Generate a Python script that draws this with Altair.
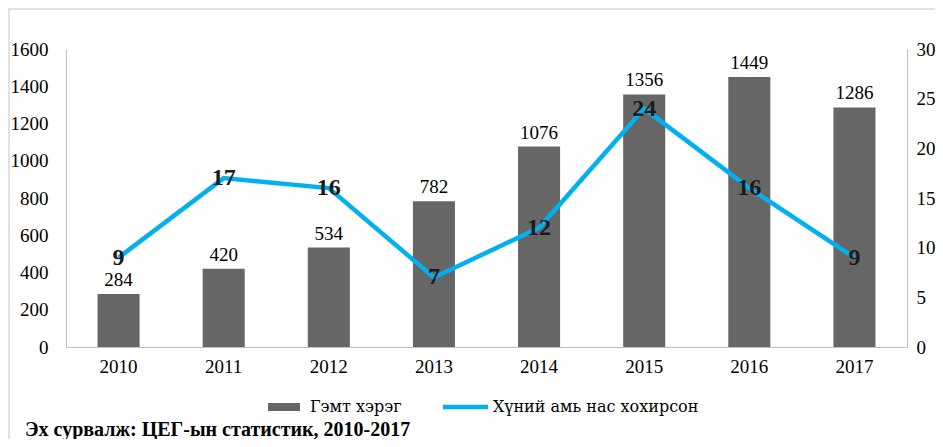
import altair as alt
import pandas as pd

years = ["2010", "2011", "2012", "2013", "2014", "2015", "2016", "2017"]
crimes = [284, 420, 534, 782, 1076, 1356, 1449, 1286]
deaths = [9, 17, 16, 7, 12, 24, 16, 9]
bar_name = "Гэмт хэрэг"
line_name = "Хүний амь нас хохирсон"
source = "Эх сурвалж: ЦЕГ-ын статистик, 2010-2017"

BAR_C = "#666666"
LINE_C = "#00b0f0"

df = pd.DataFrame({"year": years, "crimes": crimes, "deaths": deaths})

FONT = "Liberation Serif"
LEG_FONT = "DejaVu Serif"
W, H = 841, 298

x = alt.X("year:N", sort=years, title=None,
          scale=alt.Scale(paddingInner=0.6, paddingOuter=0.3),
          axis=alt.Axis(labelAngle=0, ticks=False, domainColor="#bfbfbf",
                        labelFont=FONT, labelFontSize=19, labelColor="#000",
                        labelPadding=10))

yl = alt.Y("crimes:Q", title=None,
           scale=alt.Scale(domain=[0, 1600]),
           axis=alt.Axis(values=list(range(0, 1601, 200)), format="d", grid=False,
                         ticks=False, domainColor="#bfbfbf", labelFont=FONT,
                         labelFontSize=19, labelColor="#000", labelPadding=18))

yr = alt.Y("deaths:Q", title=None,
           scale=alt.Scale(domain=[0, 30]),
           axis=alt.Axis(orient="right", values=list(range(0, 31, 5)), format="d",
                         grid=False, ticks=False, domainColor="#bfbfbf",
                         labelFont=FONT, labelFontSize=19, labelColor="#000",
                         labelPadding=9))

base = alt.Chart(df)

bars = base.mark_bar(color=BAR_C).encode(x=x, y=yl)
bar_text = base.mark_text(font=FONT, fontSize=19, baseline="bottom", dy=-4,
                          color="#000").encode(x=x, y=yl, text="crimes:Q")
left = alt.layer(bars, bar_text)

line = base.mark_line(strokeWidth=4.5, color=LINE_C).encode(x=x, y=yr)
line_text = base.mark_text(font=FONT, fontSize=24, fontWeight="bold",
                           baseline="middle", color="#1a1a1a").encode(
    x=x, y=yr, text="deaths:Q")
right = alt.layer(line, line_text)

one = pd.DataFrame({"bar": [bar_name], "line": [line_name], "src": [source]})
ann = alt.Chart(one)

border = ann.mark_rect(fill=None, stroke="#d9d9d9", strokeWidth=1.5).encode(
    x=alt.value(-57), x2=alt.value(W + 60), y=alt.value(-40), y2=alt.value(H + 120))

# legend (drawn as guide marks)
leg_bar_sym = ann.mark_rect(color=BAR_C).encode(
    x=alt.value(202), x2=alt.value(234), y=alt.value(H + 56), y2=alt.value(H + 64))
leg_bar_txt = ann.mark_text(font=LEG_FONT, fontSize=16, align="left",
                            baseline="middle", color="#000").encode(
    x=alt.value(244), y=alt.value(H + 60), text="bar:N")
leg_line_sym = ann.mark_rule(color=LINE_C, strokeWidth=4.5).encode(
    x=alt.value(377), x2=alt.value(422), y=alt.value(H + 60))
leg_line_txt = ann.mark_text(font=LEG_FONT, fontSize=16, align="left",
                             baseline="middle", color="#000").encode(
    x=alt.value(427), y=alt.value(H + 60), text="line:N")

src = ann.mark_text(font=FONT, fontSize=20, fontWeight="bold", align="left",
                    baseline="alphabetic", color="#000").encode(
    x=alt.value(-41), y=alt.value(H + 89), text="src:N")

chart = alt.layer(border, left, right, leg_bar_sym, leg_bar_txt, leg_line_sym,
                  leg_line_txt, src).resolve_scale(
    y="independent"
).properties(
    width=W, height=H,
    autosize=alt.AutoSizeParams(type="none"),
    padding={"left": 58, "top": 41, "right": 28, "bottom": 92},
).configure(font=FONT).configure_view(stroke=None)

chart.save("out.html", embed_options={"renderer": "svg", "actions": False})
